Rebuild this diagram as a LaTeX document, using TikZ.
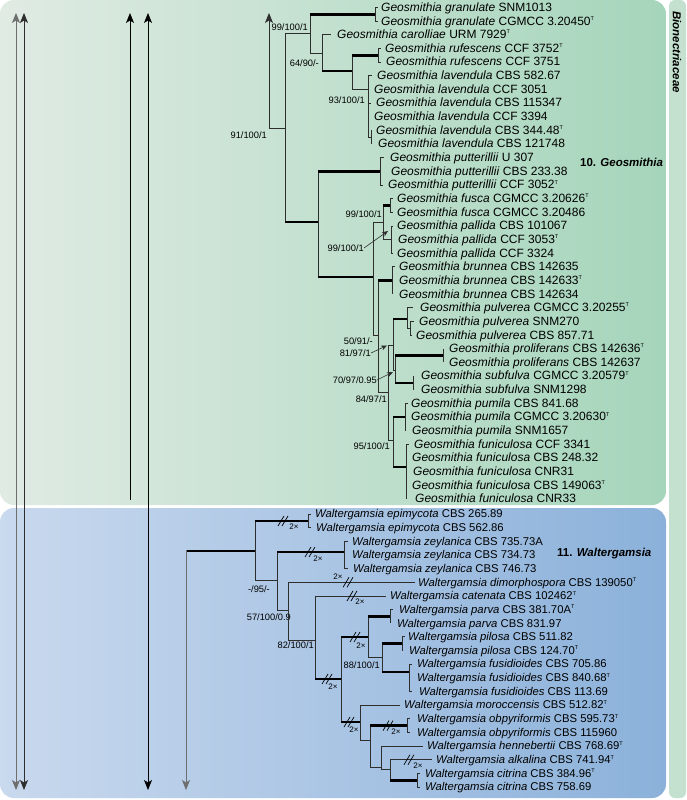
\documentclass[tikz,border=0pt]{standalone}
\usepackage{fontspec}
\setmainfont{Liberation Sans}
\usetikzlibrary{arrows.meta}
\definecolor{gL}{HTML}{E0EBE3}
\definecolor{gR}{HTML}{A5D5BB}
\definecolor{bL}{HTML}{C9D9EE}
\definecolor{bR}{HTML}{8BB1DA}
\definecolor{stripc}{HTML}{C4E0CF}
\definecolor{tc}{HTML}{2E2E2E}
\definecolor{gl}{HTML}{6E6E6E}
\newcommand{\G}{\textit{Geosmithia}}
\newcommand{\W}{\textit{Waltergamsia}}
\newcommand{\Ty}{\raisebox{0.75ex}{\fontsize{5.5}{5.5}\selectfont T}}
\begin{document}
\begin{tikzpicture}[x=1pt,y=-1pt,
  br/.style={draw=tc, line width=0.8pt},
  tk/.style={draw=black, line width=2.6pt},
  lf/.style={anchor=base west, inner sep=0pt, yshift=-3.8pt, font=\fontsize{11.3}{13}\selectfont},
  lg/.style={anchor=base west, inner sep=0pt, yshift=-3.9pt, font=\fontsize{12}{13}\selectfont},
  sp/.style={inner sep=0pt, font=\fontsize{9.3}{10}\selectfont},
  tx/.style={inner sep=0pt, font=\fontsize{8}{8}\selectfont},
  ar/.style={draw=tc, line width=0.9pt, -{Stealth[length=10pt,width=8pt,inset=2.5pt]}},
  dar/.style={line width=0.9pt, {Stealth[length=10pt,width=8pt,inset=2.5pt]}-{Stealth[length=10pt,width=8pt,inset=2.5pt]}},
  sar/.style={draw=tc, line width=0.6pt, -{Stealth[length=6pt,width=5pt]}},
  brk/.pic={\draw[line width=0.7pt, black] (-5,5)--(1,-5) (-1,5)--(5,-5);}
]
\useasboundingbox (0,0) rectangle (686,800);
\fill[white] (0,0) rectangle (686,800);
% backgrounds
\shade[left color=gL, right color=gR, rounded corners=14pt] (0,0) rectangle (666,505);
\shade[left color=bL, right color=bR, rounded corners=14pt] (0,508) rectangle (666,798);
\fill[stripc, rounded corners=6pt] (669,0) rectangle (686,798);
\node[rotate=-90, inner sep=0pt, font=\bfseries\itshape\fontsize{11.5}{12}\selectfont] (fam) at (677,52) {Bionectriaceae};
\node[anchor=west, inner sep=0pt, font=\bfseries\fontsize{11.5}{12}\selectfont] (c10) at (580,162) {10. \textit{Geosmithia}};
\node[anchor=west, inner sep=0pt, font=\bfseries\fontsize{11.5}{12}\selectfont] (c11) at (557,554) {11. \textit{Waltergamsia}};

% left lineage arrows
\draw[dar, draw=gl] (16,13) -- (16,790);
\draw[dar, draw=tc] (24,13) -- (24,790);
\draw[ar, draw=black] (130,500) -- (130,13);
\draw[dar, draw=black] (148,13) -- (148,790);

% ---------------- Geosmithia leaves
\node[lg] (g1) at (381,7.5) {\G\ \textit{granulate} SNM1013};
\node[lg] (g2) at (381,21.15) {\G\ \textit{granulate} CGMCC 3.20450\Ty};
\node[lg] (g3) at (337,34.8) {\G\ \textit{carolliae} URM 7929\Ty};
\node[lg] (g4) at (385,48.45) {\G\ \textit{rufescens} CCF 3752\Ty};
\node[lg] (g5) at (386,62.1) {\G\ \textit{rufescens} CCF 3751};
\node[lg] (g6) at (377,75.75) {\G\ \textit{lavendula} CBS 582.67};
\node[lg] (g7) at (374,89.4) {\G\ \textit{lavendula} CCF 3051};
\node[lg] (g8) at (376,103.05) {\G\ \textit{lavendula} CBS 115347};
\node[lg] (g9) at (374,116.7) {\G\ \textit{lavendula} CCF 3394};
\node[lg] (g10) at (376,130.35) {\G\ \textit{lavendula} CBS 344.48\Ty};
\node[lg] (g11) at (378,144) {\G\ \textit{lavendula} CBS 121748};
\node[lg] (g12) at (390,157.65) {\G\ \textit{putterillii} U 307};
\node[lg] (g13) at (391,171.3) {\G\ \textit{putterillii} CBS 233.38};
\node[lg] (g14) at (388,184.95) {\G\ \textit{putterillii} CCF 3052\Ty};
\node[lg] (g15) at (397,198.6) {\G\ \textit{fusca} CGMCC 3.20626\Ty};
\node[lg] (g16) at (397,212.25) {\G\ \textit{fusca} CGMCC 3.20486};
\node[lg] (g17) at (397,225.9) {\G\ \textit{pallida} CBS 101067};
\node[lg] (g18) at (398,239.55) {\G\ \textit{pallida} CCF 3053\Ty};
\node[lg] (g19) at (397,253.2) {\G\ \textit{pallida} CCF 3324};
\node[lg] (g20) at (399,266.85) {\G\ \textit{brunnea} CBS 142635};
\node[lg] (g21) at (399,280.5) {\G\ \textit{brunnea} CBS 142633\Ty};
\node[lg] (g22) at (399,294.15) {\G\ \textit{brunnea} CBS 142634};
\node[lg] (g23) at (420,307.8) {\G\ \textit{pulverea} CGMCC 3.20255\Ty};
\node[lg] (g24) at (419,321.45) {\G\ \textit{pulverea} SNM270};
\node[lg] (g25) at (416,335.1) {\G\ \textit{pulverea} CBS 857.71};
\node[lg] (g26) at (449,348.75) {\G\ \textit{proliferans} CBS 142636\Ty};
\node[lg] (g27) at (449,362.4) {\G\ \textit{proliferans} CBS 142637};
\node[lg] (g28) at (421,376.05) {\G\ \textit{subfulva} CGMCC 3.20579\Ty};
\node[lg] (g29) at (421,389.7) {\G\ \textit{subfulva} SNM1298};
\node[lg] (g30) at (411,403.35) {\G\ \textit{pumila} CBS 841.68};
\node[lg] (g31) at (411,417) {\G\ \textit{pumila} CGMCC 3.20630\Ty};
\node[lg] (g32) at (412,430.65) {\G\ \textit{pumila} SNM1657};
\node[lg] (g33) at (414,444.3) {\G\ \textit{funiculosa} CCF 3341};
\node[lg] (g34) at (412,457.95) {\G\ \textit{funiculosa} CBS 248.32};
\node[lg] (g35) at (413,471.6) {\G\ \textit{funiculosa} CNR31};
\node[lg] (g36) at (412,485.25) {\G\ \textit{funiculosa} CBS 149063\Ty};
\node[lg] (g37) at (415,498.9) {\G\ \textit{funiculosa} CNR33};

% ---------------- Geosmithia tree
\draw[ar] (285,128) -- (269,128) -- (269,13);
\draw[br] (285,33) -- (285,222);
\draw[br] (285,33) -- (310,33);
\draw[br] (310,14.3) -- (310,53);
\draw[tk] (310,14.3) -- (375,14.3);
\draw[br] (375,7.5) -- (375,21.15) (375,7.5) -- (378,7.5) (375,21.15) -- (378,21.15);
\draw[br] (310,53) -- (322,53);
\draw[br] (322,34.8) -- (322,71);
\draw[br] (322,34.8) -- (331,34.8);
\draw[tk] (322,71) -- (352,71);
\draw[br] (352,55.3) -- (352,89);
\draw[tk] (352,55.3) -- (378,55.3);
\draw[br] (378,48.45) -- (378,62.1) (378,48.45) -- (381,48.45) (378,62.1) -- (381,62.1);
\draw[br] (352,89) -- (368,89);
\draw[br] (368,75.75) -- (368,137.2);
\draw[br] (368,75.75) -- (372,75.75) (368,103.05) -- (371,103.05) (368,137.2) -- (371,137.2);
\draw[br] (371,130.35) -- (371,144);
\node[sp, anchor=east] (s1) at (267,135) {91/100/1};
\node[sp, anchor=east] (s2) at (308,27) {99/100/1};
\node[sp, anchor=east] (s3) at (319,63) {64/90/-};
\node[sp, anchor=east] (s4) at (365,100) {93/100/1};

\draw[tk] (285,222) -- (318,222);
\draw[br] (318,171.3) -- (318,277);
\draw[tk] (318,171.3) -- (380,171.3);
\draw[br] (380,157.65) -- (380,184.95) (380,157.65) -- (384,157.65) (380,184.95) -- (383,184.95);
\draw[tk] (318,277) -- (373,277);
\draw[br] (373,222) -- (373,335);
\draw[br] (373,222) -- (383,222);
\draw[br] (383,205.4) -- (383,239.5);
\draw[tk] (383,205.4) -- (390,205.4);
\draw[br] (390,198.6) -- (390,212.25) (390,198.6) -- (393,198.6) (390,212.25) -- (393,212.25);
\draw[br] (383,239.5) -- (391,239.5);
\draw[br] (391,225.9) -- (391,253.2) (391,225.9) -- (393,225.9) (391,253.2) -- (393,253.2);
\node[sp, anchor=east] (s5) at (382,214) {99/100/1};
\node[sp, anchor=east] (s6) at (364,248) {99/100/1};
\draw[sar] (s6.east) -- (388,231);

\draw[br] (373,335) -- (378,335);
\draw[br] (378,280.5) -- (378,392);
\draw[tk] (378,280.5) -- (392,280.5);
\draw[br] (392,266.85) -- (392,294.15) (392,266.85) -- (395,266.85);
\node[sp, anchor=east] (s7) at (373,341) {50/91/-};
\draw[br] (378,392) -- (388,392);
\node[sp, anchor=east] (s8) at (387,399) {84/97/1};
\draw[br] (388,345) -- (388,440);
\draw[br] (388,345) -- (393,345);
\node[sp, anchor=east] (s9) at (371,353) {81/97/1};
\draw[sar] (s9.east) -- (387,345.5);
\draw[br] (393,319) -- (393,370);
\draw[tk] (393,319) -- (407,319);
\draw[br] (407,307.8) -- (407,328);
\draw[br] (407,307.8) -- (413,307.8);
\draw[br] (407,328) -- (410,328);
\draw[br] (410,321.45) -- (410,335.1) (410,321.45) -- (414,321.45) (410,335.1) -- (412,335.1);
\draw[br] (393,370) -- (395,370);
\draw[br] (395,355.6) -- (395,382.9);
\draw[tk] (395,355.6) -- (443,355.6);
\draw[br] (443,348.75) -- (443,362.4);
\draw[tk] (395,382.9) -- (413,382.9);
\draw[br] (413,376.05) -- (413,389.7);
\node[sp, anchor=east] (s10) at (377,380) {70/97/0.95};
\draw[sar] (s10.east) -- (393,372);
\draw[br] (388,440) -- (393,440);
\node[sp, anchor=east] (s11) at (390,446) {95/100/1};
\draw[br] (393,417) -- (393,467);
\draw[tk] (393,417) -- (405,417);
\draw[br] (405,403.35) -- (405,430.65) (405,403.35) -- (408,403.35);
\draw[tk] (393,467) -- (406,467);
\draw[br] (406,444.3) -- (406,498.9) (406,444.3) -- (409,444.3);

% ---------------- Waltergamsia leaves
\node[lf] (w1) at (315,514) {\W\ \textit{epimycota} CBS 265.89};
\node[lf] (w2) at (316,527.65) {\W\ \textit{epimycota} CBS 562.86};
\node[lf] (w3) at (352,541.3) {\W\ \textit{zeylanica} CBS 735.73A};
\node[lf] (w4) at (352,554.95) {\W\ \textit{zeylanica} CBS 734.73};
\node[lf] (w5) at (353,568.6) {\W\ \textit{zeylanica} CBS 746.73};
\node[lf] (w6) at (418,582.25) {\W\ \textit{dimorphospora} CBS 139050\Ty};
\node[lf] (w7) at (390,595.9) {\W\ \textit{catenata} CBS 102462\Ty};
\node[lf] (w8) at (399,609.55) {\W\ \textit{parva} CBS 381.70A\Ty};
\node[lf] (w9) at (397,623.2) {\W\ \textit{parva} CBS 831.97};
\node[lf] (w10) at (408,636.85) {\W\ \textit{pilosa} CBS 511.82};
\node[lf] (w11) at (409,650.5) {\W\ \textit{pilosa} CBS 124.70\Ty};
\node[lf] (w12) at (417,664.15) {\W\ \textit{fusidioides} CBS 705.86};
\node[lf] (w13) at (417,677.8) {\W\ \textit{fusidioides} CBS 840.68\Ty};
\node[lf] (w14) at (419,691.45) {\W\ \textit{fusidioides} CBS 113.69};
\node[lf] (w15) at (404,705.1) {\W\ \textit{moroccensis} CBS 512.82\Ty};
\node[lf] (w16) at (417,718.75) {\W\ \textit{obpyriformis} CBS 595.73\Ty};
\node[lf] (w17) at (417,732.4) {\W\ \textit{obpyriformis} CBS 115960};
\node[lf] (w18) at (427,746.05) {\W\ \textit{hennebertii} CBS 768.69\Ty};
\node[lf] (w19) at (436,759.7) {\W\ \textit{alkalina} CBS 741.94\Ty};
\node[lf] (w20) at (425,773.35) {\W\ \textit{citrina} CBS 384.96\Ty};
\node[lf] (w21) at (425,787) {\W\ \textit{citrina} CBS 758.69};

% ---------------- Waltergamsia tree
\draw[tk] (255,551) -- (186,551);
\draw[ar, draw=gl] (186,550) -- (186,790);
\draw[br] (255,521) -- (255,580);
\draw[tk] (255,521) -- (308,521);
\pic at (283,521) {brk};
\node[tx] (x1) at (294,527) {2×};
\draw[br] (308,514) -- (308,527.65) (308,514) -- (311,514) (308,527.65) -- (311,527.65);
\draw[br] (255,580) -- (277,580);
\node[sp, anchor=east] (s12) at (270,589) {-/95/-};
\draw[br] (277,552) -- (277,610);
\draw[tk] (277,552) -- (344,552);
\pic at (310,552) {brk};
\node[tx] (x2) at (318,559) {2×};
\draw[br] (344,541.3) -- (344,568.6) (344,541.3) -- (348,541.3) (344,568.6) -- (348,568.6);
\draw[br] (277,610) -- (288,610);
\node[sp, anchor=east] (s13) at (291,617) {57/100/0.9};
\draw[br] (288,582.25) -- (288,640);
\draw[br] (288,582.25) -- (415,582.25);
\pic at (348,582.25) {brk};
\node[tx] (x3) at (338,577) {2×};
\draw[br] (288,640) -- (315,640);
\node[sp, anchor=east] (s14) at (314,645) {82/100/1};
\draw[br] (315,595.9) -- (315,679);
\draw[br] (315,595.9) -- (386,595.9);
\pic at (352,595.9) {brk};
\node[tx] (x4) at (360,602) {2×};
\draw[tk] (315,679) -- (341,679);
\pic at (327,679) {brk};
\node[tx] (x5) at (333,687) {2×};
\draw[br] (341,637) -- (341,722);
\draw[tk] (341,637) -- (368,637);
\pic at (355,637) {brk};
\node[tx] (x6) at (361,646) {2×};
\draw[br] (368,616.4) -- (368,657);
\draw[tk] (368,616.4) -- (390,616.4);
\draw[br] (390,609.55) -- (390,623.2) (390,609.55) -- (393,609.55);
\draw[br] (368,657) -- (382,657);
\node[sp, anchor=east] (s15) at (380,665) {88/100/1};
\draw[br] (382,643.7) -- (382,672);
\draw[tk] (382,643.7) -- (402,643.7);
\draw[br] (402,636.85) -- (402,650.5) (402,636.85) -- (405,636.85);
\draw[tk] (382,672) -- (409,672);
\draw[br] (409,664.15) -- (409,691.45) (409,664.15) -- (412,664.15) (409,691.45) -- (412,691.45);
\draw[tk] (341,722) -- (360,722);
\pic at (349,722) {brk};
\node[tx] (x7) at (354,730) {2×};
\draw[br] (360,705.1) -- (360,740);
\draw[br] (360,705.1) -- (400,705.1);
\draw[br] (360,740) -- (370,740);
\draw[br] (370,725.6) -- (370,767);
\draw[tk] (370,725.6) -- (407,725.6);
\pic at (388,725.6) {brk};
\node[tx] (x8) at (396,732) {2×};
\draw[br] (407,718.75) -- (407,732.4) (407,718.75) -- (410,718.75) (407,732.4) -- (410,732.4);
\draw[br] (370,767) -- (381,767);
\draw[br] (381,746.05) -- (381,769);
\draw[br] (381,746.05) -- (423,746.05);
\draw[br] (381,769) -- (390,769);
\draw[br] (390,759.7) -- (390,780.2);
\draw[br] (390,759.7) -- (432,759.7);
\pic at (409,759.7) {brk};
\node[tx] (x9) at (418,766) {2×};
\draw[tk] (390,780.2) -- (417,780.2);
\draw[br] (417,773.35) -- (417,787) (417,773.35) -- (420,773.35) (417,787) -- (420,787);
\end{tikzpicture}
\end{document}
